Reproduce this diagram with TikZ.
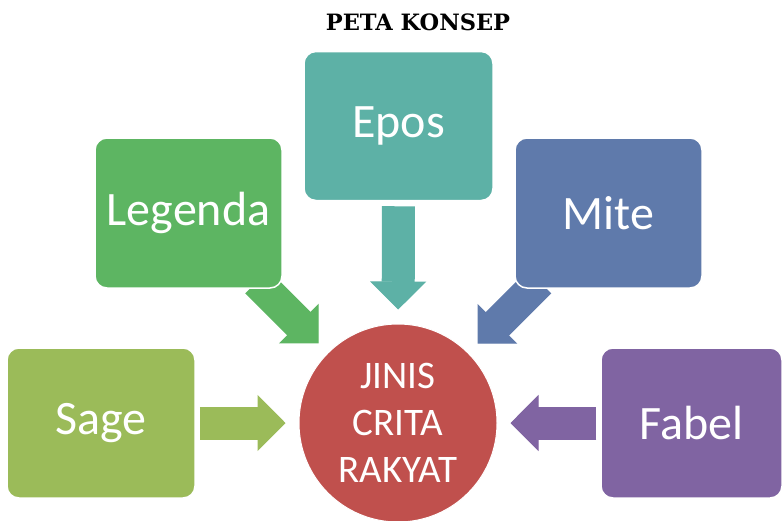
\documentclass[tikz,border=0pt]{standalone}
\usepackage{fontspec}
\setmainfont{Carlito}
\newfontfamily\judulfont{DejaVu Serif}
\usetikzlibrary{arrows.meta,backgrounds}
\definecolor{eposC}{HTML}{5DB1A6}
\definecolor{legendaC}{HTML}{5DB562}
\definecolor{miteC}{HTML}{5F7AAB}
\definecolor{sageC}{HTML}{9BBB59}
\definecolor{fabelC}{HTML}{8064A2}
\definecolor{hubC}{HTML}{C0504D}
\tikzstyle{kotak} = [rectangle, rounded corners=12pt, draw=white, line width=1.5pt, minimum width=187pt, minimum height=150pt, text=white, font=\fontsize{48}{56}\selectfont]
\tikzstyle{panah} = [line width=33pt, -{Triangle[length=28pt,width=56pt,line width=1pt]}, shorten <=4pt, shorten >=13pt]

\begin{document}
\begin{tikzpicture}[x=1pt,y=-1pt]
\useasboundingbox (0,0) rectangle (783,520);
\node [font=\judulfont\bfseries\fontsize{22.5}{26}\selectfont] (judul) at (418,22) {PETA KONSEP};
\node [kotak, fill=eposC, minimum width=189pt, minimum height=149pt] (epos) at (398.5,126) {Epos};
\node [kotak, fill=legendaC] (legenda) at (188.5,213) {Legenda};
\node [kotak, fill=miteC] (mite) at (608.5,213) {Mite};
\node [kotak, fill=sageC, minimum width=188pt] (sage) at (101,423) {Sage};
\node [kotak, fill=fabelC, minimum width=181pt] (fabel) at (691.5,423) {Fabel};
\node [circle, fill=hubC, draw=white, line width=1pt, minimum size=198pt, inner sep=0pt, text=white, align=center,
	font=\fontsize{39}{47}\selectfont] (hub) at (398,423) {JINIS\\CRITA\\RAKYAT};
\begin{scope}[on background layer]
	\draw [panah, eposC, shorten <=5pt, shorten >=14pt] (epos) -- (hub);
	\draw [panah, legendaC, shorten <=-10pt] (legenda) -- (hub);
	\draw [panah, miteC, shorten <=-10pt] (mite) -- (hub);
	\draw [panah, sageC] (sage) -- (hub);
	\draw [panah, fabelC] (fabel) -- (hub);
\end{scope}
\end{tikzpicture}
\end{document}
